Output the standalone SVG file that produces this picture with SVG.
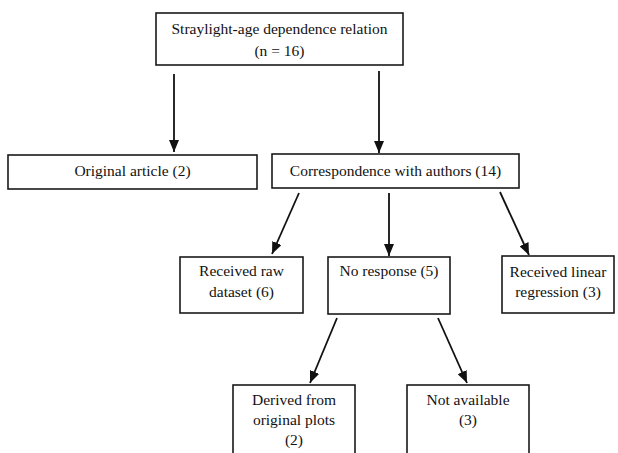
<svg xmlns="http://www.w3.org/2000/svg" width="618" height="453" viewBox="0 0 618 453">
<style>
.box{fill:#fff;stroke:#1a1a1a;stroke-width:1.6}
text{font-family:'Liberation Serif','DejaVu Serif',serif;font-size:15.5px;fill:#111;text-anchor:middle}
.c{stroke:#111;stroke-width:1.8;fill:none;marker-end:url(#ah)}
</style>
<defs>
<marker id="ah" markerUnits="userSpaceOnUse" markerWidth="12" markerHeight="10" viewBox="0 0 12 10" refX="12" refY="5" orient="auto">
<path d="M0,0 L12,5 L0,10 Z" fill="#111"/>
</marker>
</defs>
<rect width="618" height="453" fill="#fff"/>
<g id="connectors">
<line class="c" x1="174" y1="74" x2="174" y2="152"/>
<line class="c" x1="379" y1="71" x2="379" y2="153"/>
<line class="c" x1="299" y1="193" x2="272" y2="254"/>
<line class="c" x1="389" y1="193" x2="389" y2="256"/>
<line class="c" x1="500" y1="192" x2="529" y2="255"/>
<line class="c" x1="337" y1="318" x2="310" y2="383"/>
<line class="c" x1="438" y1="318" x2="467" y2="383"/>
</g>
<g font-family="Liberation Serif, DejaVu Serif, serif">
<g id="n_top">
<rect class="box" x="156" y="13" width="247" height="52"/>
<text x="279.5" y="34">Straylight-age dependence relation</text>
<text x="279.5" y="56">(n = 16)</text>
</g>
<g id="n_original">
<rect class="box" x="8" y="155" width="249" height="34"/>
<text x="132.5" y="176">Original article (2)</text>
</g>
<g id="n_corr">
<rect class="box" x="272" y="154" width="247" height="34"/>
<text x="395.5" y="176">Correspondence with authors (14)</text>
</g>
<g id="n_raw">
<rect class="box" x="180" y="257" width="123" height="56"/>
<text x="241.5" y="276">Received raw</text>
<text x="241.5" y="297">dataset (6)</text>
</g>
<g id="n_noresp">
<rect class="box" x="328" y="257" width="122" height="57"/>
<text x="389" y="276">No response (5)</text>
</g>
<g id="n_linear">
<rect class="box" x="502" y="256" width="112" height="57"/>
<text x="558" y="277">Received linear</text>
<text x="558" y="297">regression (3)</text>
</g>
<g id="n_derived">
<rect class="box" x="233" y="385" width="122" height="80"/>
<text x="294" y="405">Derived from</text>
<text x="294" y="425">original plots</text>
<text x="294" y="445">(2)</text>
</g>
<g id="n_na">
<rect class="box" x="407" y="385" width="122" height="80"/>
<text x="468" y="405">Not available</text>
<text x="468" y="425">(3)</text>
</g>
</g>
</svg>
